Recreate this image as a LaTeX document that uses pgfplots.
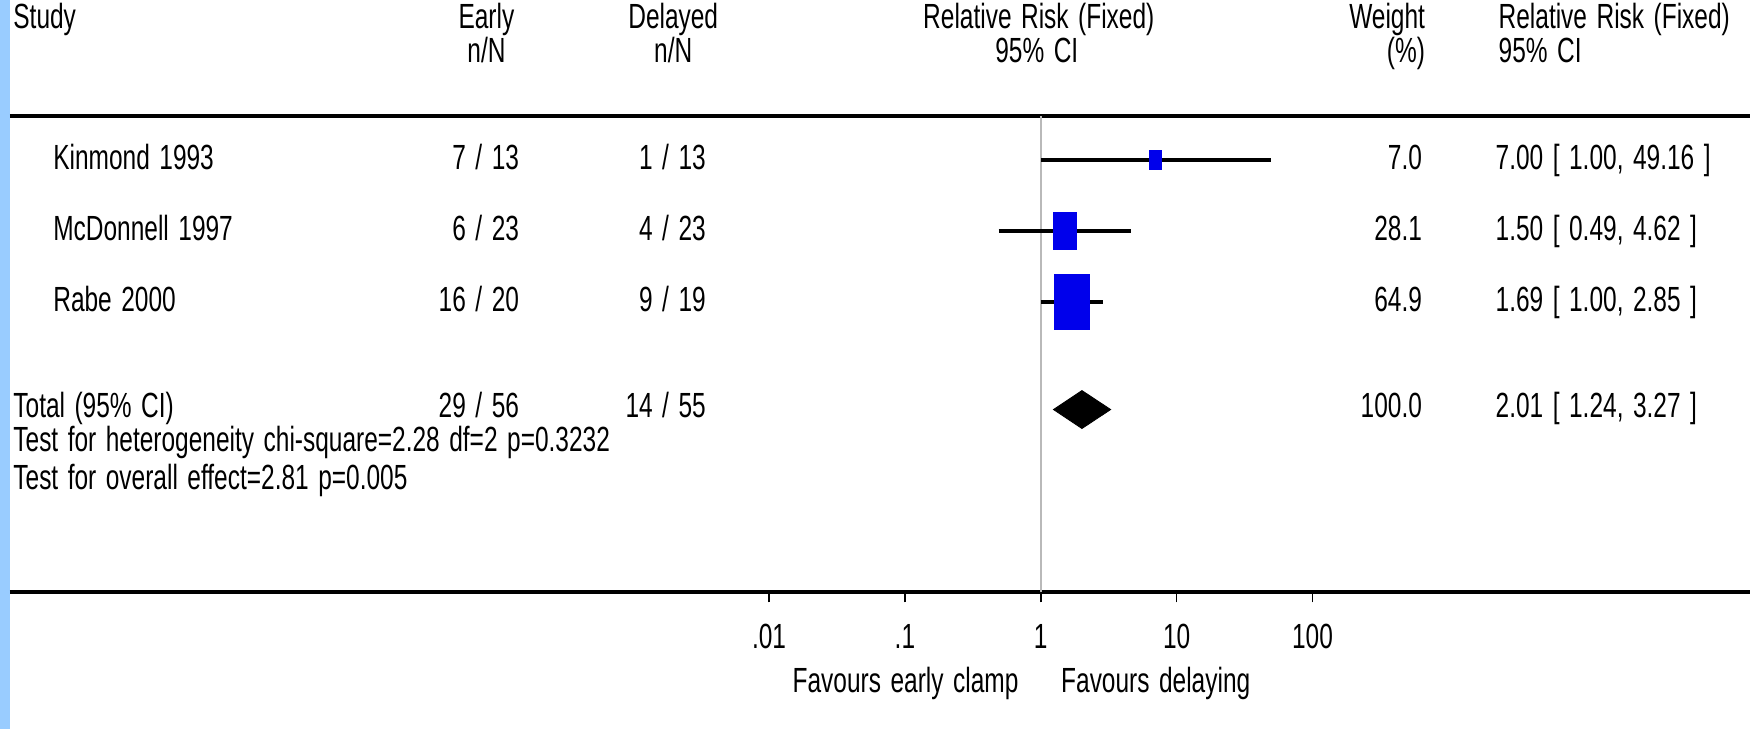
\documentclass[border=0pt]{standalone}
\usepackage{fontspec}
\setmainfont{Liberation Sans}[FakeStretch=0.70, WordSpace=1.4]
\usepackage{pgfplots}
\pgfplotsset{compat=1.18}

\definecolor{strip}{RGB}{153,204,255}
\definecolor{boxblue}{RGB}{0,0,235}
\definecolor{refgray}{RGB}{185,185,185}

\newcommand{\tf}{\fontsize{17.5}{20}\selectfont}

\begin{document}
\begin{tikzpicture}[every node/.style={font=\tf, inner sep=0pt}]
\begin{scope}[x=0.5pt,y=-0.5pt]
% canvas and side strip
\fill[white] (0,0) rectangle (1752,730);
\fill[strip] (0,0) rectangle (10,730);
% rule under the header
\draw[line width=2pt] (10,116) -- (1752,116);
\end{scope}

\begin{axis}[
  at={(5pt,-296.5pt)}, anchor=south west,
  scale only axis, width=871pt, height=238.5pt,
  xmode=log, xmin=2.582e-8, xmax=1.663e5,
  ymin=137, ymax=614,
  axis y line=none, axis x line=bottom,
  x axis line style={-, line width=2pt},
  xtick={0.01,0.1,1,10,100}, xticklabels={.01,.1,1,10,100},
  xminorticks=false,
  xtick align=outside, major tick length=5pt,
  tick style={black, line width=0.8pt},
  xticklabel style={anchor=center, font=\tf},
  xticklabel shift=17pt,
  /pgf/number format/assume math mode=true,
  clip=false,
]
% line of no effect
\addplot[refgray, line width=1pt] coordinates {(1,137) (1,614)};
% study boxes (side ~ sqrt of weight)
\addplot[only marks, mark=square*, mark size=2.85pt,
  mark options={yscale=1.6, fill=boxblue, draw=boxblue}] coordinates {(7.00,570)};
\addplot[only marks, mark=square*, mark size=5.7pt,
  mark options={yscale=1.6, fill=boxblue, draw=boxblue}] coordinates {(1.50,499)};
\addplot[only marks, mark=square*, mark size=8.66pt,
  mark options={yscale=1.6, fill=boxblue, draw=boxblue}] coordinates {(1.69,428)};
% confidence intervals
\addplot[black, line width=2pt] coordinates {(1.00,570) (49.16,570)};
\addplot[black, line width=2pt] coordinates {(0.49,499) (4.62,499)};
\addplot[black, line width=2pt] coordinates {(1.00,428) (2.85,428)};
% pooled estimate
\addplot[fill=black, draw=black] coordinates {(1.24,320) (2.01,339) (3.27,320) (2.01,301)} -- cycle;
\end{axis}

\begin{scope}[x=0.5pt,y=-0.5pt]
% header
\node[anchor=base west] at (13,29) {Study};
\node[anchor=base] at (487,29) {Early};
\node[anchor=base] at (487,63) {n/N};
\node[anchor=base] at (674,29) {Delayed};
\node[anchor=base] at (674,63) {n/N};
\node[anchor=base] at (1040,29) {Relative Risk (Fixed)};
\node[anchor=base] at (1038,63) {95\% CI};
\node[anchor=base east] at (1427,29) {Weight};
\node[anchor=base east] at (1427,63) {(\%)};
\node[anchor=base west] at (1500,29) {Relative Risk (Fixed)};
\node[anchor=base west] at (1500,63) {95\% CI};

% study rows
\node[anchor=base west] at (53,170) {Kinmond 1993};
\node[anchor=base east] at (520,170) {7 / 13};
\node[anchor=base east] at (707,170) {1 / 13};
\node[anchor=base east] at (1424,170) {7.0};
\node[anchor=base west] at (1497,170) {7.00 [ 1.00, 49.16 ]};

\node[anchor=base west] at (53,241) {McDonnell 1997};
\node[anchor=base east] at (520,241) {6 / 23};
\node[anchor=base east] at (707,241) {4 / 23};
\node[anchor=base east] at (1424,241) {28.1};
\node[anchor=base west] at (1497,241) {1.50 [ 0.49, 4.62 ]};

\node[anchor=base west] at (53,312) {Rabe 2000};
\node[anchor=base east] at (520,312) {16 / 20};
\node[anchor=base east] at (707,312) {9 / 19};
\node[anchor=base east] at (1424,312) {64.9};
\node[anchor=base west] at (1497,312) {1.69 [ 1.00, 2.85 ]};

% total and tests
\node[anchor=base west] at (13,418) {Total (95\% CI)};
\node[anchor=base east] at (520,418) {29 / 56};
\node[anchor=base east] at (707,418) {14 / 55};
\node[anchor=base east] at (1424,418) {100.0};
\node[anchor=base west] at (1497,418) {2.01 [ 1.24, 3.27 ]};
\node[anchor=base west] at (13,452) {Test for heterogeneity chi-square=2.28 df=2 p=0.3232};
\node[anchor=base west] at (13,490) {Test for overall effect=2.81 p=0.005};

% axis captions
\node[anchor=base east] at (1020,693) {Favours early clamp};
\node[anchor=base west] at (1062,693) {Favours delaying};
\end{scope}
\end{tikzpicture}
\end{document}
